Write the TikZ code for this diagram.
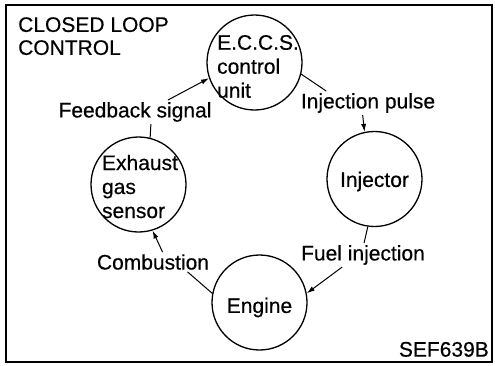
\documentclass[tikz,border=0pt]{standalone}
\usepackage{fontspec}
\setmainfont{Liberation Sans}[FakeBold=0.4]
\usetikzlibrary{arrows.meta,positioning}
\tikzset{
  stage/.style={circle,draw,line width=1.3pt,minimum size=95pt,inner sep=0pt},
  inside/.style={inner sep=0pt,align=left,font=\fontsize{21}{24}\selectfont},
  caption/.style={inner sep=2pt,font=\fontsize{21}{23}\selectfont},
  feed/.style={-{Latex[length=8pt,width=5pt]},line width=1pt},
  link/.style={line width=1pt}
}

\begin{document}
\begin{tikzpicture}[x=1pt,y=-1pt]
\useasboundingbox (0,0) rectangle (495,365);
\draw[line width=1.6pt] (6,5) rectangle (492,362);
\node[caption,anchor=north west,inner sep=0pt,align=left] (title) at (18,17) {CLOSED LOOP\\CONTROL};
\node[caption,anchor=south east,inner sep=0pt] (code) at (489,357) {SEF639B};
% the four stages of the loop
\node[stage] (eccs) at (254.5,62.5) {};
\node[stage] (inj) at (374.5,179) {};
\node[stage] (eng) at (259.5,302.5) {};
\node[stage] (exh) at (138.5,184.5) {};
\node[inside] (eccstxt) at ([xshift=3.5pt,yshift=-4pt]eccs.center) {E.C.C.S.\\control\\unit};
\node[inside] (injtxt) at ([yshift=-2.5pt]inj.center) {Injector};
\node[inside] (engtxt) at ([yshift=-5pt]eng.center) {Engine};
\node[inside] (exhtxt) at ([xshift=1.5pt,yshift=-2pt]exh.center) {Exhaust\\gas\\sensor};
% signals between them
\node[caption] (pulse) at (368,103) {Injection pulse};
\node[caption] (fuel) at (363,255) {Fuel injection};
\node[caption] (comb) at (153,262) {Combustion};
\node[caption] (fb) at (135,112) {Feedback signal};
\draw[link] (eccs.-14) -- (pulse.164);
\draw[feed] (pulse.-114) -- (inj.102);
\draw[link] (inj.-98) -- (fuel.85);
\draw[feed] (fuel.-150) -- (eng.11);
\draw[link] (eng.169) -- (comb.-16);
\draw[feed] (comb.46) -- (exh.-73);
\draw[link] (exh.76) -- (fb.-37);
\draw[feed] (fb.20) -- (eccs.199);
\end{tikzpicture}
\end{document}
